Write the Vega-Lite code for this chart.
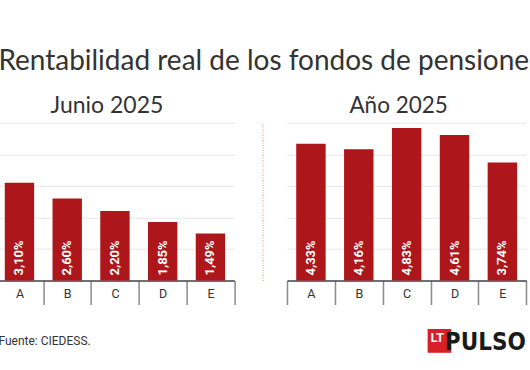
{
  "$schema": "https://vega.github.io/schema/vega-lite/v6.json",
  "autosize": {"type": "none"},
  "padding": {"left": -4.4, "top": 122.7, "right": 540, "bottom": 100},
  "background": "white",
  "title": {
    "text": "Rentabilidad real de los fondos de pensiones",
    "font": "Lato",
    "fontSize": 28,
    "fontWeight": "normal",
    "color": "#333333",
    "anchor": "middle",
    "baseline": "alphabetic",
    "offset": -3,
    "dx": 9
  },
  "datasets": {
    "junio": [
      {"fondo": "A", "valor": 3.10, "etiqueta": "3,10%"},
      {"fondo": "B", "valor": 2.60, "etiqueta": "2,60%"},
      {"fondo": "C", "valor": 2.20, "etiqueta": "2,20%"},
      {"fondo": "D", "valor": 1.85, "etiqueta": "1,85%"},
      {"fondo": "E", "valor": 1.49, "etiqueta": "1,49%"}
    ],
    "anio": [
      {"fondo": "A", "valor": 4.33, "etiqueta": "4,33%"},
      {"fondo": "B", "valor": 4.16, "etiqueta": "4,16%"},
      {"fondo": "C", "valor": 4.83, "etiqueta": "4,83%"},
      {"fondo": "D", "valor": 4.61, "etiqueta": "4,61%"},
      {"fondo": "E", "valor": 3.74, "etiqueta": "3,74%"}
    ]
  },
  "bounds": "flush",
  "spacing": 52.4,
  "hconcat": [
    {
      "width": 238.7,
      "height": 157.8,
      "data": {"name": "junio"},
      "title": {"text": "Junio 2025", "font": "Lato", "fontSize": 23, "fontWeight": "normal", "color": "#333333", "anchor": "middle", "baseline": "alphabetic", "offset": -13, "dx": -8},
      "encoding": {
        "x": {
          "field": "fondo", "type": "nominal", "sort": null,
          "scale": {"paddingInner": 0, "paddingOuter": 0},
          "axis": {
            "title": "Fuente: CIEDESS.", "titleFont": "Roboto", "titleFontSize": 12, "titleFontWeight": "normal", "titleColor": "#333333",
            "titleAlign": "left", "titleBaseline": "alphabetic", "titleX": 2.4, "titleY": 64,
            "labelAngle": 0, "labelFont": "Roboto", "labelFontSize": 12.5, "labelColor": "#333333", "labelPadding": -17,
            "domainColor": "#444444", "domainWidth": 1.5,
            "tickBand": "extent", "tickSize": 24, "tickColor": "#8a8a8a", "tickWidth": 1.5, "grid": false
          }
        },
        "y": {
          "field": "valor", "type": "quantitative",
          "scale": {"domain": [0, 5], "nice": false},
          "axis": {
            "values": [0, 1, 2, 3, 4, 5], "labels": false, "ticks": false, "domain": false,
            "grid": true, "gridColor": "#e6e6e6", "gridWidth": 1,
            "title": "■", "titleAngle": 0, "titleFont": "DejaVu Sans", "titleFontSize": 31, "titleFontWeight": "normal", "titleColor": "#d71f27",
            "titleAlign": "center", "titleBaseline": "middle", "titleX": 443.2, "titleY": 217.3
          }
        }
      },
      "layer": [
        {"mark": {"type": "bar", "color": "#AD171C", "width": {"band": 0.615}}},
        {
          "mark": {"type": "text", "angle": 270, "align": "left", "baseline": "middle", "dx": 5, "font": "Roboto", "fontSize": 13, "fontWeight": "bold", "color": "white"},
          "encoding": {"y": {"datum": 0}, "text": {"field": "etiqueta"}}
        }
      ]
    },
    {
      "width": 239.3,
      "height": 157.8,
      "data": {"name": "anio"},
      "title": {"text": "Año 2025", "font": "Lato", "fontSize": 22.5, "fontWeight": "normal", "color": "#333333", "anchor": "middle", "baseline": "alphabetic", "offset": -13, "dx": -8},
      "encoding": {
        "x": {
          "field": "fondo", "type": "nominal", "sort": null,
          "scale": {"paddingInner": 0, "paddingOuter": 0},
          "axis": {
            "title": "PULSO", "titleFont": "Liberation Sans Narrow, DejaVu Sans Condensed, sans-serif", "titleFontSize": 24, "titleFontWeight": "bold", "titleColor": "#1a1a1a",
            "titleAlign": "right", "titleBaseline": "alphabetic", "titleX": 238.3, "titleY": 69,
            "labelAngle": 0, "labelFont": "Roboto", "labelFontSize": 12.5, "labelColor": "#333333", "labelPadding": -17,
            "domainColor": "#444444", "domainWidth": 1.5,
            "tickBand": "extent", "tickSize": 24, "tickColor": "#8a8a8a", "tickWidth": 1.5, "grid": false
          }
        },
        "y": {
          "field": "valor", "type": "quantitative",
          "scale": {"domain": [0, 5], "nice": false},
          "axis": {
            "values": [0, 1, 2, 3, 4, 5], "labels": false, "ticks": false,
            "domain": true, "domainColor": "#f3b3aa", "domainWidth": 1.5, "domainDash": [1, 1.5], "offset": 24.4,
            "grid": true, "gridColor": "#e6e6e6", "gridWidth": 1,
            "title": "LT", "titleAngle": 0, "titleFont": "Roboto", "titleFontSize": 13, "titleFontWeight": "bold", "titleColor": "white",
            "titleAlign": "center", "titleBaseline": "middle", "titleX": 174.1, "titleY": 215
          }
        }
      },
      "layer": [
        {"mark": {"type": "bar", "color": "#AD171C", "width": {"band": 0.615}}},
        {
          "mark": {"type": "text", "angle": 270, "align": "left", "baseline": "middle", "dx": 5, "font": "Roboto", "fontSize": 13, "fontWeight": "bold", "color": "white"},
          "encoding": {"y": {"datum": 0}, "text": {"field": "etiqueta"}}
        }
      ]
    }
  ],
  "config": {"view": {"stroke": null}}
}
